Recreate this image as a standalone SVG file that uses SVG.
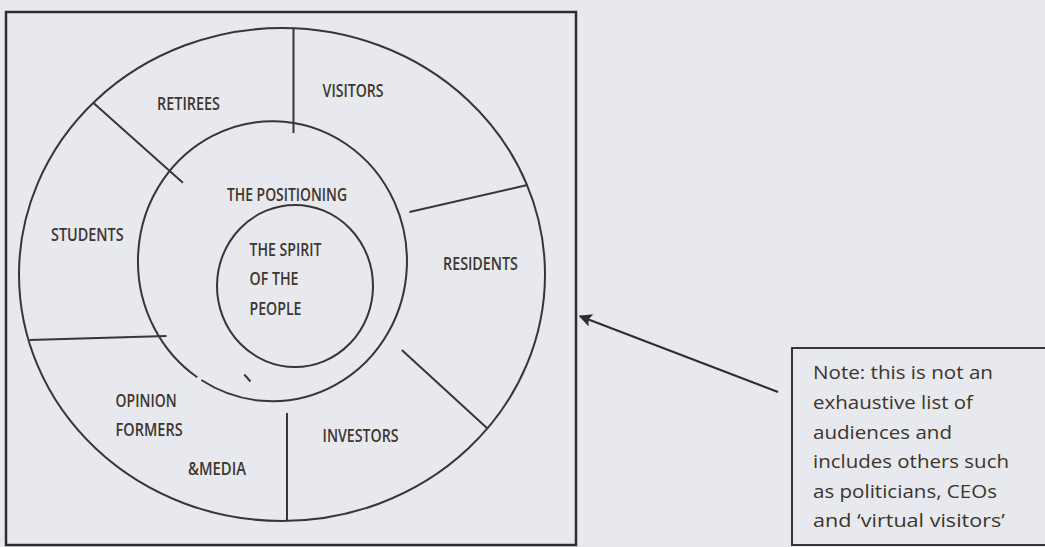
<svg xmlns="http://www.w3.org/2000/svg" width="1045" height="547" viewBox="0 0 1045 547">
<style>
.ln{fill:none;stroke:#3a3535;stroke-width:2}
.bx{fill:none;stroke:#2f2c2c;stroke-width:2.5}
.lb{font-family:"Open Sans","Liberation Sans",sans-serif;font-size:18px;font-weight:600;fill:#3d3631}
.nt{font-family:"Open Sans","Liberation Sans",sans-serif;font-size:18px;font-weight:500;fill:#3b352c}
</style>
<defs>
<marker id="ah" viewBox="0 0 10 10" refX="9" refY="5" markerWidth="7.5" markerHeight="6.5" orient="auto" markerUnits="strokeWidth">
<path d="M0,0 L10,5 L0,10 L2,5 z" fill="#2f2c2c"/>
</marker>
</defs>
<rect x="0" y="0" width="1045" height="547" fill="#e8e9ee"/>
<g id="frame"><rect class="bx" x="6" y="12" width="570" height="533"/></g>
<g id="rings">
<ellipse class="ln" cx="282" cy="274.5" rx="263" ry="246.5"/>
<path class="ln" d="M201.3,380 A134.5,140 0 1 0 197.3,377.3"/>
<ellipse class="ln" cx="295" cy="286" rx="78" ry="81"/>
<line class="ln" x1="244.3" y1="374.5" x2="250.5" y2="381.5"/>
</g>
<g id="dividers">
<line class="ln" x1="293.5" y1="28.5" x2="293.5" y2="133"/>
<line class="ln" x1="93.8" y1="103.3" x2="182.9" y2="182.7"/>
<line class="ln" x1="527.4" y1="185" x2="409.5" y2="212"/>
<line class="ln" x1="29.5" y1="340" x2="166.5" y2="336"/>
<line class="ln" x1="401.8" y1="350" x2="488" y2="429"/>
<line class="ln" x1="287" y1="413" x2="287" y2="521"/>
</g>
<g id="node-retirees"><text class="lb" x="157" y="110" textLength="63" lengthAdjust="spacingAndGlyphs">RETIREES</text></g>
<g id="node-visitors"><text class="lb" x="322.6" y="97" textLength="61" lengthAdjust="spacingAndGlyphs">VISITORS</text></g>
<g id="node-positioning"><text class="lb" x="227" y="201" textLength="120" lengthAdjust="spacingAndGlyphs">THE POSITIONING</text></g>
<g id="node-students"><text class="lb" x="51" y="241" textLength="72.6" lengthAdjust="spacingAndGlyphs">STUDENTS</text></g>
<g id="node-spirit">
<text class="lb" x="249.5" y="256" textLength="72" lengthAdjust="spacingAndGlyphs">THE SPIRIT</text>
<text class="lb" x="249.5" y="285" textLength="49" lengthAdjust="spacingAndGlyphs">OF THE</text>
<text class="lb" x="249.5" y="315" textLength="52" lengthAdjust="spacingAndGlyphs">PEOPLE</text>
</g>
<g id="node-residents"><text class="lb" x="443" y="270" textLength="75" lengthAdjust="spacingAndGlyphs">RESIDENTS</text></g>
<g id="node-opinion">
<text class="lb" x="115.6" y="407" textLength="61" lengthAdjust="spacingAndGlyphs">OPINION</text>
<text class="lb" x="115.6" y="436" textLength="67" lengthAdjust="spacingAndGlyphs">FORMERS</text>
<text class="lb" x="188" y="475" textLength="58" lengthAdjust="spacingAndGlyphs">&amp;MEDIA</text>
</g>
<g id="node-investors"><text class="lb" x="322.6" y="442" textLength="76" lengthAdjust="spacingAndGlyphs">INVESTORS</text></g>
<g id="node-note">
<rect class="ln" x="792" y="348" width="270" height="197"/>
<text class="nt" x="813" y="379" textLength="180" lengthAdjust="spacingAndGlyphs">Note: this is not an</text>
<text class="nt" x="813" y="409" textLength="160" lengthAdjust="spacingAndGlyphs">exhaustive list of</text>
<text class="nt" x="813" y="439" textLength="139" lengthAdjust="spacingAndGlyphs">audiences and</text>
<text class="nt" x="813" y="468" textLength="196" lengthAdjust="spacingAndGlyphs">includes others such</text>
<text class="nt" x="813" y="498" textLength="184" lengthAdjust="spacingAndGlyphs">as politicians, CEOs</text>
<text class="nt" x="813" y="527" textLength="192" lengthAdjust="spacingAndGlyphs">and ‘virtual visitors’</text>
</g>
<g id="connectors">
<line x1="778" y1="392" x2="580" y2="316.2" stroke="#2f2c2c" stroke-width="2" marker-end="url(#ah)"/>
</g>
</svg>
